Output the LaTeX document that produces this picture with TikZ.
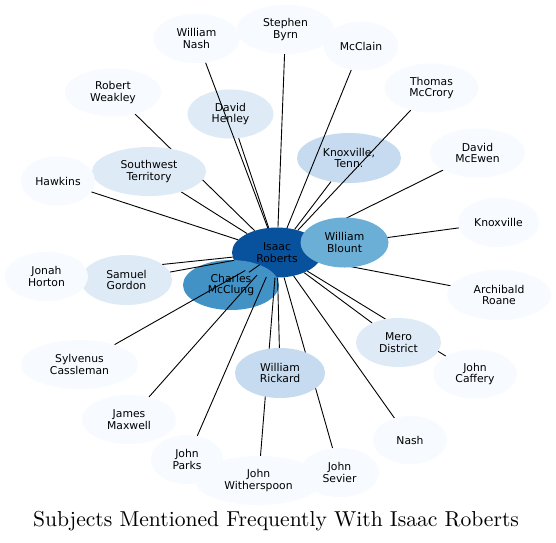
\documentclass[tikz,border=0pt]{standalone}
\usepackage{fontspec}
\newfontfamily\nodefont{DejaVu Sans}
\newfontfamily\titlefont{lmroman10-regular.otf}
\usetikzlibrary{shapes.geometric}
\pgfdeclarelayer{back}
\pgfdeclarelayer{edges}
\pgfsetlayers{back,edges,main}
\definecolor{bA}{HTML}{F7FBFF}
\definecolor{bB}{HTML}{DEEBF7}
\definecolor{bC}{HTML}{C6DBEF}
\definecolor{bE}{HTML}{6BAED6}
\definecolor{bF}{HTML}{4292C6}
\definecolor{bH}{HTML}{08519C}
\tikzset{
  ent/.style={ellipse, inner sep=0pt, align=center, text=black,
    font=\nodefont\fontsize{10.8}{11.7}\selectfont},
  sz/.style 2 args={minimum width=#1pt, minimum height=#2pt},
  lvA/.style={ent, fill=bA},
  lvB/.style={ent, fill=bB},
  lvC/.style={ent, fill=bC},
  link/.style={draw=black, line width=0.9pt},
  titletext/.style={font=\titlefont\fontsize{21.6}{26}\selectfont, anchor=base, inner sep=0pt}
}
\begin{document}
\begin{tikzpicture}[x=1pt, y=-1pt]
\useasboundingbox (0,0) rectangle (556,542);
\begin{pgfonlayer}{back}
  \fill[white] (0,0) rectangle (556,542);
  \node[ent, fill=bH, sz={90}{50}] (ir) at (277,252.5) {Isaac\\Roberts};
  \node[ent, fill=bF, sz={96}{50}] (mcclung) at (231,285) {Charles\\McClung};
  \node[lvB, sz={86}{49}] (henley) at (230.5,114) {David\\Henley};
  \node[lvC, sz={104}{50}] (knoxtenn) at (349,158) {Knoxville,\\Tenn.};
\end{pgfonlayer}
% main-layer nodes
\node[ent, fill=bE, sz={88}{50}] (blount) at (344.5,242.5) {William\\Blount};
\node[lvC, sz={90}{50}] (rickard) at (280,373) {William\\Rickard};
\node[lvB, sz={114}{49}] (sw) at (149,171.5) {Southwest\\Territory};
\node[lvB, sz={91}{50}] (gordon) at (126.5,280) {Samuel\\Gordon};
\node[lvB, sz={85}{49}] (mero) at (398.5,342.5) {Mero\\District};
\node[lvA, sz={86}{49}] (wnash) at (196.5,38.5) {William\\Nash};
\node[lvA, sz={97}{49}] (byrn) at (285.5,29.5) {Stephen\\Byrn};
\node[lvA, sz={74}{49}] (mcclain) at (361,46) {McClain};
\node[lvA, sz={94}{49}] (mccrory) at (431.5,88) {Thomas\\McCrory};
\node[lvA, sz={96}{48}] (weakley) at (113,92.5) {Robert\\Weakley};
\node[lvA, sz={95}{49}] (mcewen) at (477.5,153) {David\\McEwen};
\node[lvA, sz={74}{49}] (hawkins) at (58,181) {Hawkins};
\node[lvA, sz={81}{49}] (knoxville) at (498.5,222.5) {Knoxville};
\node[lvA, sz={83}{49}] (jonah) at (46.5,276.5) {Jonah\\Horton};
\node[lvA, sz={104}{50}] (roane) at (499,295) {Archibald\\Roane};
\node[lvA, sz={117}{49}] (sylvenus) at (79.5,364.5) {Sylvenus\\Cassleman};
\node[lvA, sz={84}{49}] (caffery) at (475,374) {John\\Caffery};
\node[lvA, sz={94}{49}] (maxwell) at (129,419.5) {James\\Maxwell};
\node[lvA, sz={74}{48}] (nashb) at (410,440) {Nash};
\node[lvA, sz={72}{49}] (parks) at (187,459.5) {John\\Parks};
\node[lvA, sz={79}{49}] (sevier) at (339.5,472.5) {John\\Sevier};
\node[lvA, sz={127}{49}] (witherspoon) at (258.5,480.5) {John\\Witherspoon};
% connectors
\begin{pgfonlayer}{edges}
  \foreach \t in {wnash,byrn,mcclain,mccrory,weakley,henley,sw,hawkins,knoxtenn,
    mcewen,knoxville,blount,jonah,gordon,mcclung,roane,sylvenus,caffery,mero,maxwell,
    nashb,parks,rickard,witherspoon,sevier}
    \draw[link] (ir) -- (\t);
\end{pgfonlayer}
\node[titletext] (title) at (276,526) {Subjects Mentioned Frequently With Isaac Roberts};
\end{tikzpicture}
\end{document}
